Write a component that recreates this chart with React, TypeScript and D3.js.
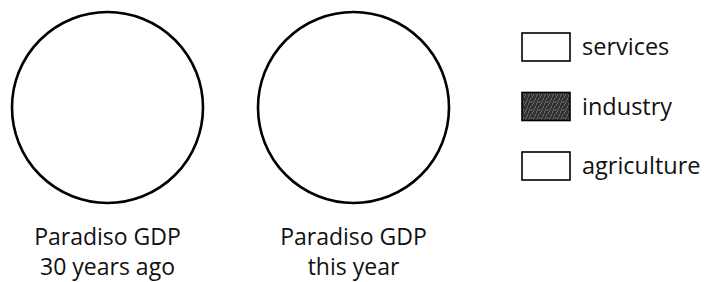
import { useMemo } from 'react';
import * as d3 from 'd3';

// Two blank pie outlines (to be filled in), plus a legend of sectors
const pieTitles = ['30 years ago', 'this year'];
const pieCaption = 'Paradiso GDP';
const sectors = ['services', 'industry', 'agriculture'];
const sectorFills = ['#ffffff', 'url(#stipple)', '#ffffff'];

const W = 705;
const H = 282;
const FONT = '"Open Sans", "Noto Sans", sans-serif';

export default function App() {
  const x = useMemo(
    () => d3.scalePoint<string>().domain(pieTitles).range([107.5, 353.5]),
    []
  );
  const ly = useMemo(
    () => d3.scalePoint<string>().domain(sectors).range([33, 152]),
    []
  );
  const r = 95.5;
  const cy = 107.5;

  // speckle dots for the industry swatch texture
  const speckles: [number, number][] = [
    [1, 1], [4, 0], [6, 3], [2, 4], [0, 6], [5, 6], [7, 1], [3, 2],
  ];

  return (
    <svg
      width={W}
      height={H}
      style={{ position: 'absolute', left: 0, top: 0, display: 'block', background: '#fff' }}
      fontFamily={FONT}
    >
      <defs>
        <pattern id="stipple" width={8} height={8} patternUnits="userSpaceOnUse">
          <rect width={8} height={8} fill="#333" />
          {speckles.map(([px, py], i) => (
            <rect key={i} x={px} y={py} width={1} height={1} fill="#a0a0a0" />
          ))}
        </pattern>
      </defs>

      {pieTitles.map((t) => (
        <g key={t}>
          <circle cx={x(t)} cy={cy} r={r} fill="none" stroke="#000" strokeWidth={2.6} />
          <text x={x(t)} y={245} textAnchor="middle" fontSize={23} fill="#111">
            {pieCaption}
          </text>
          <text x={x(t)} y={275} textAnchor="middle" fontSize={23} fill="#111">
            {t}
          </text>
        </g>
      ))}

      {sectors.map((s, i) => (
        <g key={s} transform={`translate(522,${ly(s)})`}>
          <rect width={48} height={28} fill={sectorFills[i]} stroke="#000" strokeWidth={1.6} />
          <text x={60} y={22} fontSize={23.5} fill="#111">
            {s}
          </text>
        </g>
      ))}
    </svg>
  );
}
